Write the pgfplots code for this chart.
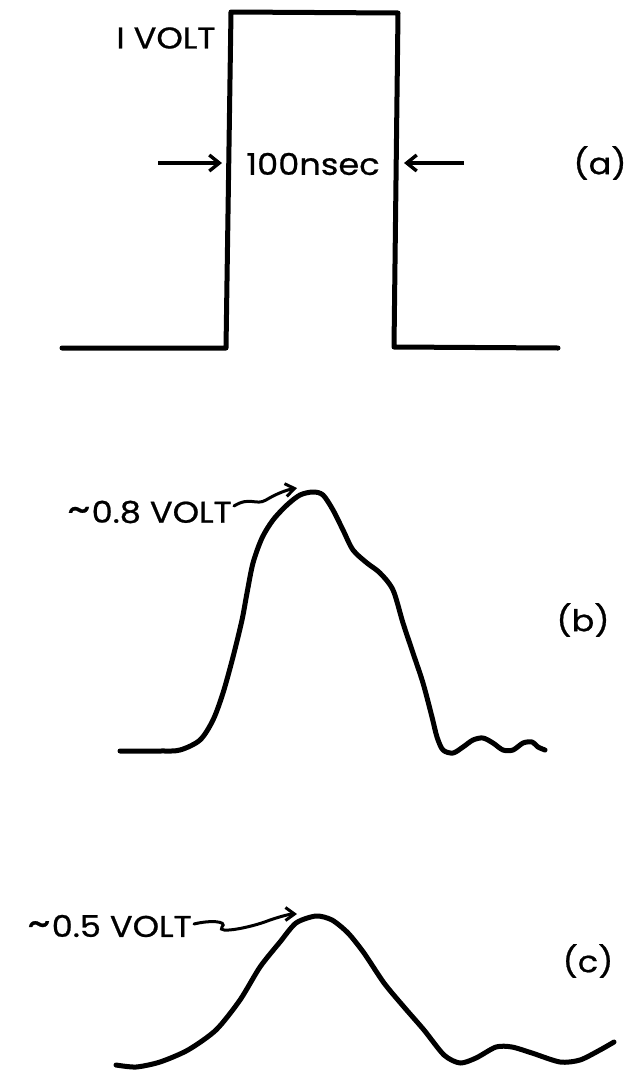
\documentclass[border=0pt]{standalone}
\usepackage{pgfplots}
\pgfplotsset{compat=1.18}
\usepackage{fontspec}
\setmainfont{Poppins}
\newfontfamily\labfont[FakeBold=0.7]{Poppins}
\usetikzlibrary{arrows.meta}
\newcommand\approxsign{{\fontsize{40}{30}\selectfont\textasciitilde}\kern1pt}
\tikzset{
  lab/.style={font=\labfont\fontsize{30}{30}\selectfont, inner sep=0pt, xscale=1.12},
  trace/.style={black, line width=5pt, line cap=round, line join=round, mark=none},
}

\begin{document}
\begin{tikzpicture}
\begin{axis}[
  scale only axis,
  width=626pt, height=1071pt,
  xmin=0, xmax=626, ymin=0, ymax=1071,
  y dir=reverse,
  axis lines=none,
  clip=false,
]
% (a) input pulse, 1 V for 100 ns
\addplot[trace] coordinates {
  (62,348) (226,348) (231,12) (398,13) (394,347) (558,348)
};
% (b) pulse after the first stage, ~0.8 V
\addplot[trace, smooth, tension=0.5] coordinates {
  (120,751) (160,751) (180,750) (200,740) (213,720) (223,693) (233,657)
  (242,620) (247,593) (253,563) (262,538) (273,520) (287,505) (300,495)
  (313,492) (323,495) (333,510) (343,530) (353,550) (367,563) (380,573)
  (393,590) (403,623) (413,653) (423,683) (432,717) (437,737) (443,750)
  (453,753) (463,747) (473,740) (483,738) (493,743) (503,750) (513,750)
  (523,743) (532,742) (538,747) (545,750)
};
% (c) pulse after the second stage, ~0.5 V
\addplot[trace, smooth, tension=0.45] coordinates {
  (116,1065) (136,1067) (160,1062) (188,1050) (216,1030) (240,1000)
  (260,967) (280,942) (296,923) (316,916) (332,920) (348,933) (364,953)
  (384,983) (404,1007) (424,1030) (444,1055) (460,1063) (476,1058)
  (496,1047) (512,1047) (532,1053) (560,1062) (580,1060) (600,1050)
  (614,1042)
};

% labels
\node[lab] at (axis cs:166,38) {I VOLT};
\node[lab] at (axis cs:313,164) {100nsec};
\node[lab] at (axis cs:600,163) {(a)};
\node[lab] at (axis cs:583,620) {(b)};
\node[lab] at (axis cs:588,961) {(c)};
\node[lab, anchor=east] at (axis cs:232,512) {\approxsign 0.8 VOLT};
\node[lab, anchor=east] at (axis cs:192,926) {\approxsign 0.5 VOLT};

% width arrows
\draw[line width=3.4pt, -{Straight Barb[length=10pt, width=16pt]}]
  (axis cs:158,163) -- (axis cs:222,163);
\draw[line width=3.4pt, -{Straight Barb[length=10pt, width=16pt]}]
  (axis cs:464,163) -- (axis cs:404,163);

% peak pointers
\draw[line width=3pt, line cap=round, -{Straight Barb[length=9pt, width=13pt]}]
  (axis cs:234,506) .. controls (axis cs:250,496) and (axis cs:256,506) .. (axis cs:266,500)
  .. controls (axis cs:276,494) and (axis cs:286,490) .. (axis cs:297,488);
\draw[line width=3pt, line cap=round, -{Straight Barb[length=9pt, width=13pt]}]
  (axis cs:194,924) .. controls (axis cs:210,920) and (axis cs:228,921) .. (axis cs:222,927)
  .. controls (axis cs:216,934) and (axis cs:250,928) .. (axis cs:270,920)
  .. controls (axis cs:282,916) and (axis cs:290,914) .. (axis cs:297,914);
\end{axis}
\pgfresetboundingbox
\path (current axis.south west) rectangle (current axis.north east);
\end{tikzpicture}
\end{document}
